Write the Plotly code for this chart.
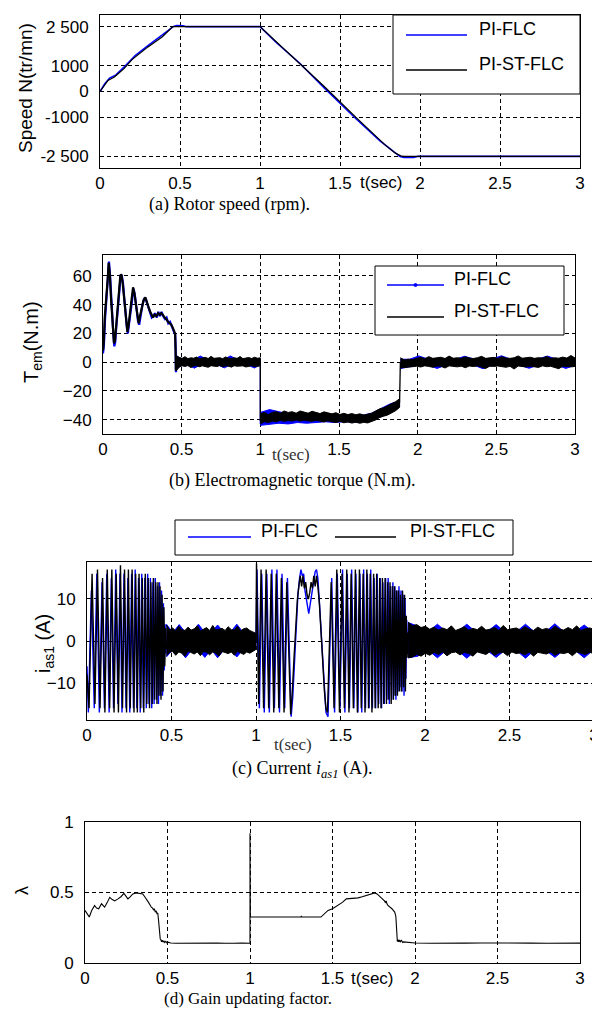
import numpy as np
import plotly.graph_objects as go

# ---------------- DATA ----------------
time_ticks = [0, 0.5, 1, 1.5, 2, 2.5, 3]
time_ticktext = ["0", "0.5", "1", "1.5", "2", "2.5", "3"]

speed_ticks = [-2500, -1000, 0, 1000, 2500]
speed_ticktext = ["-2 500", "-1000", "0", "1000", "2 500"]
torque_ticks = [-40, -20, 0, 20, 40, 60]
current_ticks = [-10, 0, 10]
lambda_ticks = [0, 0.5, 1]

# (a) rotor speed
speed_t_st = [0, 0.05, 0.09, 0.15, 0.2, 0.3, 0.39, 0.44, 0.455, 1.0, 1.2, 1.4, 1.6, 1.78, 1.84, 1.88, 1.9, 3.0]
speed_st = [0, 430, 560, 880, 1230, 1720, 2110, 2420, 2500, 2500, 1350, 200, -1000, -2050, -2350, -2480, -2500, -2500]
speed_t_pi = [0, 0.03, 0.06, 0.1, 0.16, 0.22, 0.3, 0.38, 0.43, 0.46, 0.48, 0.52, 0.54, 1.0, 1.1, 1.25, 1.4, 1.6, 1.75, 1.85, 1.875, 1.9, 1.96, 1.99, 3.0]
speed_pi = [0, 300, 520, 640, 1000, 1380, 1770, 2150, 2400, 2510, 2545, 2535, 2500, 2500, 1900, 1080, 150, -1050, -1900, -2390, -2510, -2545, -2540, -2500, -2500]

# (b) electromagnetic torque : start-up transient
torque_t_st = [0, 0.005, 0.011, 0.021, 0.03, 0.036, 0.043, 0.05, 0.057, 0.064, 0.07, 0.076, 0.081, 0.088, 0.095,
               0.103, 0.11, 0.117, 0.124, 0.134, 0.142, 0.149, 0.155, 0.162, 0.17, 0.18, 0.191, 0.2, 0.212, 0.22,
               0.227, 0.237, 0.248, 0.258, 0.269, 0.28, 0.29, 0.3, 0.307, 0.318, 0.328, 0.34, 0.35, 0.36, 0.37,
               0.38, 0.392, 0.402, 0.413, 0.424, 0.434, 0.443, 0.452, 0.458, 0.461, 0.463, 0.466]
torque_st = [8, 14, 31, 43, 58, 69, 62, 46, 34, 22, 13, 15, 22, 32, 43, 55, 60, 61, 56, 45, 34, 26, 21, 25, 31,
             42, 52, 48, 38, 31, 27, 33, 39, 43, 45, 42, 38, 35, 33, 31, 33, 32, 34, 33, 34, 33, 31, 30, 28, 27,
             26, 24, 22, 20, 10, -6, 1]
torque_t_pi = [0, 0.006, 0.013, 0.022, 0.031, 0.038, 0.045, 0.052, 0.059, 0.066, 0.072, 0.078, 0.084, 0.091,
               0.098, 0.106, 0.113, 0.12, 0.128, 0.137, 0.145, 0.152, 0.158, 0.165, 0.173, 0.183, 0.194, 0.203,
               0.214, 0.222, 0.23, 0.24, 0.251, 0.261, 0.272, 0.283, 0.293, 0.303, 0.31, 0.32, 0.33, 0.342,
               0.352, 0.362, 0.372, 0.382, 0.394, 0.404, 0.415, 0.426, 0.436, 0.445, 0.454, 0.459, 0.462, 0.464, 0.467]
torque_pi = [6, 12, 30, 45, 60, 70, 60, 43, 31, 19, 11, 14, 24, 34, 45, 56, 61, 60, 54, 42, 31, 24, 20, 26, 33,
             44, 51, 46, 36, 29, 26, 34, 40, 44, 44, 40, 36, 33, 31, 32, 34, 31, 35, 32, 35, 32, 30, 31, 27, 28,
             25, 23, 21, 19, 8, -7, 2]

# torque ripple bands (upper / lower envelope)
tq_band1_t = (0.466, 1.0)
tq_band1_up = [4.5, 3.2, 2.6, 3.8, 2.4, 3.0, 2.7, 3.5, 2.3, 2.9, 3.3, 2.5, 4.0, 2.6, 2.8, 3.1, 2.4, 3.6, 2.7, 2.5,
               3.0, 2.6, 3.9, 2.4, 2.8, 3.2, 2.5, 3.4, 2.7, 3.0]
tq_band1_lo = [-6, -3.4, -2.6, -3.0, -2.4, -3.8, -2.7, -2.5, -3.2, -2.6, -2.9, -3.6, -2.5, -2.7, -3.1, -2.4, -3.3,
               -2.6, -2.8, -3.5, -2.5, -2.9, -3.0, -2.6, -3.4, -2.7, -2.5, -3.1, -2.8, -2.6]
tq_band2_t = (1.0, 1.885)
tq_band2_up = [-36, -35, -36.5, -35, -34.5, -35.5, -34, -35, -34.5, -35.5, -34, -34.8, -35.5, -34.2, -35, -35.8,
               -34.6, -35.4, -36, -35.2, -36.4, -35.6, -36.5, -35.8, -36.6, -36, -36.8, -36.2, -35.5, -34, -32.5,
               -31.8, -30.5, -29, -27.5, -25.5]
tq_band2_lo = [-43, -41.5, -42, -41, -41.5, -40.5, -41.2, -40.6, -41, -40.2, -41, -40.5, -40.8, -41.2, -40.4, -41,
               -41.6, -40.8, -41.5, -42, -41.2, -42.2, -41.6, -42.4, -41.8, -42.5, -41.9, -42.3, -41.5, -40.2,
               -38.5, -37.6, -36.8, -35.5, -33.8, -31.5]
tq_band3_t = (1.89, 3.0)
tq_band3_up = [3, 1.5, 2, 1.8, 2.6, 3.2, 2.4, 3.8, 2.6, 2.9, 3.4, 2.5, 4.2, 2.7, 3.0, 2.6, 3.6, 2.8, 2.5, 3.1, 4.0,
               2.6, 2.9, 3.3, 2.5, 3.7, 2.8, 2.6, 3.0, 4.3, 2.7, 2.9, 3.4, 2.6, 3.1, 2.8, 3.9, 2.6, 3.0, 2.7, 3.5,
               2.8, 4.6, 2.9]
tq_band3_lo = [-4, -3.8, -3.5, -3.2, -2.8, -3.4, -2.6, -3.0, -3.6, -2.7, -2.9, -4.1, -2.6, -3.0, -3.3, -2.8, -3.9,
               -2.7, -3.1, -2.6, -3.4, -4.4, -2.8, -3.0, -2.7, -3.2, -3.6, -2.9, -4.8, -2.7, -3.1, -3.4, -2.8,
               -3.0, -3.7, -2.6, -3.2, -2.9, -3.5, -4.6, -2.8, -3.1, -3.3, -3.0]
# PI-FLC bands (mostly hidden, occasional spikes)
tq_pi_band1_up = [4.5, 2.0, 2.2, 2.0, 4.2, 2.1, 2.0, 2.2, 2.0, 4.3, 2.1, 2.0, 2.2, 2.0, 2.1]
tq_pi_band1_lo = [-5, -2.0, -2.1, -4.2, -2.0, -2.2, -2.0, -2.1, -4.0, -2.0, -2.2, -2.0, -2.1, -4.1, -2.0]
tq_pi_band2_up = [-35, -33, -34.5, -36, -36.5, -36, -36.5, -37, -37, -37.5, -37.5, -37, -35.5, -32, -29, -27]
tq_pi_band2_lo = [-44, -43, -42.5, -43, -42, -42.5, -42, -41.5, -42, -41.5, -41.8, -41.5, -40, -38, -35, -31]
tq_pi_band3_up = [2.0, 2.0, 4.3, 2.1, 2.0, 2.2, 2.0, 4.1, 2.1, 2.0, 2.2, 4.4, 2.0, 2.1, 2.0, 2.2, 4.2, 2.0, 2.1, 2.0]
tq_pi_band3_lo = [-4.5, -3, -2.0, -2.1, -4.4, -2.0, -2.2, -2.0, -2.1, -4.6, -2.0, -2.2, -2.0, -2.1, -4.3, -2.0,
                  -2.2, -2.0, -4.4, -2.1]

# (c) stator current i_as1 : oscillation peaks
cur_t_st_1 = [0, 0.012, 0.03, 0.047, 0.062, 0.077, 0.092, 0.106, 0.12, 0.134, 0.147, 0.16, 0.173, 0.186, 0.198,
              0.21, 0.222, 0.234, 0.245, 0.256, 0.267, 0.278, 0.288, 0.298, 0.308, 0.318, 0.327, 0.336, 0.345,
              0.354, 0.362, 0.37, 0.378, 0.386, 0.393, 0.4, 0.407, 0.414, 0.42, 0.426, 0.432, 0.438, 0.444, 0.45,
              0.455, 0.46, 0.465, 0.47]
cur_st_1 = [-8, -16, 16, -15, 17, -16, 15, -17, 17, -16, 17, -17, 16, -17, 18, -16, 17, -17, 17, -16, 17, -17,
            16, -17, 16, -16, 15, -17, 16, -15, 15, -16, 14, -15, 15, -14, 14, -15, 14, -13, 13, -14, 11, -12, 8,
            -6, 3, -2]
cur_t_st_2 = [1.0, 1.003, 1.016, 1.03, 1.045, 1.06, 1.075, 1.09, 1.105, 1.12, 1.135, 1.15, 1.166, 1.182, 1.205,
              1.215, 1.225, 1.235, 1.245, 1.255, 1.262, 1.27, 1.278, 1.286, 1.294, 1.302, 1.31, 1.318, 1.326,
              1.334, 1.342, 1.35, 1.358, 1.366, 1.375, 1.385, 1.395, 1.405, 1.414, 1.423]
cur_st_2 = [0, 18.5, -15, 17, -16, 17, -16, 16, -17, 16, -16, 15, -17, 14, -17.5,
            -12, -4, 4, 10, 13.5, 15.5, 13, 15.5, 12.5, 14, 11, 10, 11.5, 14, 12.5, 15.5, 13, 15.5, 13, 9, 2,
            -6, -12, -16, -17]
cur_t_st_3 = [1.445, 1.462, 1.478, 1.494, 1.509, 1.523, 1.537, 1.55, 1.563, 1.576, 1.588, 1.6, 1.612, 1.623,
              1.634, 1.645, 1.656, 1.666, 1.676, 1.686, 1.696, 1.705, 1.714, 1.723, 1.732, 1.74, 1.748, 1.756,
              1.764, 1.772, 1.779, 1.786, 1.793, 1.8, 1.807, 1.813, 1.819, 1.825, 1.831, 1.837, 1.843, 1.849,
              1.855, 1.861, 1.867, 1.873, 1.879, 1.884, 1.889, 1.894, 1.899]
cur_st_3 = [14, -16, 17, -17, 16, -16, 17, -17, 16, -16, 17, -17, 17, -16, 16, -17, 17, -16, 16, -17, 16, -16,
            16, -16, 15, -16, 15, -15, 15, -15, 14, -14, 14, -15, 13, -14, 13, -13, 12, -13, 12, -12, 11, -12,
            12, -11, 11, -12, 6, -4, 2]

cur_t_pi_1 = [0, 0.008, 0.026, 0.043, 0.058, 0.073, 0.089, 0.103, 0.117, 0.131, 0.144, 0.157, 0.17, 0.183, 0.195,
              0.207, 0.219, 0.231, 0.242, 0.253, 0.264, 0.275, 0.285, 0.295, 0.305, 0.315, 0.324, 0.333, 0.342,
              0.351, 0.359, 0.367, 0.375, 0.383, 0.39, 0.397, 0.404, 0.411, 0.417, 0.423, 0.429, 0.435, 0.441,
              0.447, 0.452, 0.457, 0.462, 0.468]
cur_pi_1 = [-6, -17, 12, -16, 16, -17, 14, -16, 16, -17, 15, -16, 17, -15, 16, -17, 16, -16, 15, -17, 16, -16, 17,
            -16, 15, -17, 16, -16, 15, -16, 16, -15, 15, -16, 14, -15, 15, -14, 13, -15, 14, -13, 12, -13, 9, -7,
            4, -3]
cur_t_pi_2 = [1.0, 1.006, 1.02, 1.034, 1.049, 1.064, 1.079, 1.094, 1.109, 1.124, 1.139, 1.154, 1.17, 1.186, 1.208,
              1.218, 1.228, 1.238, 1.248, 1.258, 1.266, 1.274, 1.282, 1.29, 1.298, 1.306, 1.312, 1.318, 1.326,
              1.334, 1.342, 1.35, 1.358, 1.366, 1.374, 1.384, 1.394, 1.404, 1.414, 1.426]
cur_pi_2 = [0, 17, -16, 16, -17, 16, -17, 17, -16, 17, -17, 16, -16, 15, -18,
            -13, -5, 5, 11, 15, 17, 15.5, 16, 12, 10, 8, 6.5, 8, 10, 12.5, 15, 16.5, 17, 15, 10, 3, -6, -13, -17,
            -18]
cur_t_pi_3 = [1.448, 1.465, 1.481, 1.497, 1.512, 1.526, 1.54, 1.553, 1.566, 1.579, 1.591, 1.603, 1.615, 1.626,
              1.637, 1.648, 1.659, 1.669, 1.679, 1.689, 1.699, 1.708, 1.717, 1.726, 1.735, 1.743, 1.751, 1.759,
              1.767, 1.775, 1.782, 1.789, 1.796, 1.803, 1.81, 1.816, 1.822, 1.828, 1.834, 1.84, 1.846, 1.852,
              1.858, 1.864, 1.87, 1.876, 1.882, 1.887, 1.892, 1.897, 1.902]
cur_pi_3 = [15, -17, 16, -16, 17, -17, 16, -16, 17, -16, 16, -17, 16, -17, 17, -16, 16, -16, 17, -16, 15, -16, 16,
            -15, 15, -16, 14, -15, 15, -14, 15, -15, 13, -14, 14, -13, 13, -14, 12, -12, 13, -11, 12, -12, 11,
            -13, 10, -9, 5, -3, 2]

# current ripple bands
cur_band1_t = (0.47, 1.0)
cur_band1_up = [3.8, 2.6, 3.1, 2.4, 3.5, 2.7, 2.5, 3.3, 2.6, 2.9, 3.6, 2.4, 2.8, 3.2, 2.5, 3.7, 2.6, 2.8, 3.0,
                2.5, 3.4, 2.7, 2.6, 3.5, 2.4, 2.9, 3.1, 2.5, 2.2, 1.8]
cur_band1_lo = [-3.5, -2.7, -2.5, -3.4, -2.6, -2.9, -3.6, -2.4, -2.8, -3.1, -2.6, -3.5, -2.5, -2.7, -3.3, -2.6,
                -2.9, -3.6, -2.5, -2.8, -3.0, -2.6, -3.4, -2.5, -2.8, -3.2, -2.6, -2.9, -2.4, -2.0]
cur_band2_t = (1.9, 3.0)
cur_band2_up = [4.5, 3.6, 3.9, 3.2, 3.5, 2.8, 3.3, 2.6, 3.1, 2.7, 3.6, 2.5, 2.9, 3.4, 2.6, 3.0, 2.7, 3.5, 2.6,
                2.8, 3.2, 2.5, 3.7, 2.7, 2.9, 3.1, 2.6, 3.4, 2.8, 2.5, 3.3, 2.7, 3.0, 2.6, 3.5, 2.8, 2.6, 3.2,
                2.7, 3.6, 2.5, 2.9, 3.1, 2.8]
cur_band2_lo = [-4, -3.8, -3.2, -3.6, -2.9, -3.4, -2.7, -3.2, -2.6, -3.5, -2.8, -2.6, -3.3, -2.7, -3.0, -3.6,
                -2.6, -2.9, -3.2, -2.5, -3.4, -2.8, -2.7, -3.5, -2.6, -3.0, -2.8, -3.3, -2.6, -3.6, -2.7, -2.9,
                -3.1, -2.6, -3.4, -2.8, -3.0, -2.7, -3.5, -2.6, -2.9, -3.2, -2.7, -3.0]
cur_pi_band1_up = [4.0, 2.0, 3.9, 2.0, 2.1, 4.0, 2.0, 2.1, 3.8, 2.0, 2.1, 4.0, 2.0, 2.0, 1.8]
cur_pi_band1_lo = [-3.8, -2.0, -2.1, -4.0, -2.0, -2.1, -3.9, -2.0, -4.0, -2.1, -2.0, -3.8, -2.0, -2.0, -1.9]
cur_pi_band2_up = [4.4, 3.5, 2.1, 4.0, 2.0, 2.1, 4.0, 2.0, 2.1, 3.9, 2.0, 2.1, 4.0, 2.0, 2.1, 4.1, 2.0, 2.1, 3.8, 2.0]
cur_pi_band2_lo = [-4.0, -3.6, -2.1, -4.0, -2.0, -2.1, -4.1, -2.0, -2.1, -3.9, -2.0, -2.1, -4.1, -2.0, -2.1,
                   -3.9, -2.0, -2.1, -4.0, -2.0]

# (d) gain updating factor lambda (PI-ST-FLC)
lambda_t = [0, 0.013, 0.026, 0.04, 0.058, 0.07, 0.083, 0.1, 0.119, 0.135, 0.15, 0.165, 0.18, 0.2, 0.218, 0.236,
            0.25, 0.26, 0.275, 0.29, 0.311, 0.33, 0.35, 0.362, 0.372, 0.385, 0.402, 0.41, 0.415, 0.42, 0.426,
            0.431, 0.436, 0.441, 0.446, 0.449, 0.452, 0.456, 0.46, 0.464, 0.468, 0.473, 0.478, 0.483, 0.49,
            0.497, 0.503, 0.52, 0.55, 0.6, 0.65, 0.7, 0.72, 0.74, 0.8, 0.85, 0.88, 0.9, 0.95, 0.999,
            1.0, 1.0, 1.002, 1.2, 1.31, 1.311, 1.312, 1.43, 1.473, 1.5, 1.533, 1.56, 1.584, 1.62, 1.655, 1.68,
            1.705, 1.73, 1.756, 1.77, 1.796, 1.81, 1.815, 1.82, 1.825, 1.83, 1.836, 1.86, 1.877, 1.884, 1.887,
            1.893, 1.897, 1.9, 1.905, 1.91, 1.917, 1.925, 1.93, 1.95, 2.0, 2.1, 2.2, 2.3, 2.4, 2.5, 2.6, 2.7,
            2.8, 2.9, 3.0]
lambda_v = [0.373, 0.35, 0.326, 0.37, 0.408, 0.39, 0.385, 0.42, 0.396, 0.43, 0.466, 0.45, 0.44, 0.455, 0.47,
            0.494, 0.47, 0.455, 0.47, 0.49, 0.497, 0.495, 0.49, 0.47, 0.455, 0.43, 0.396, 0.39, 0.375, 0.385,
            0.361, 0.37, 0.35, 0.355, 0.3, 0.25, 0.186, 0.17, 0.165, 0.15, 0.162, 0.148, 0.158, 0.145, 0.153,
            0.142, 0.148, 0.142, 0.14, 0.141, 0.142, 0.139, 0.143, 0.14, 0.141, 0.14, 0.143, 0.14, 0.141, 0.14,
            0.14, 0.92, 0.326, 0.326, 0.326, 0.335, 0.326, 0.326, 0.373, 0.385, 0.408, 0.43, 0.455, 0.458,
            0.462, 0.47, 0.478, 0.485, 0.497, 0.49, 0.462, 0.45, 0.44, 0.43, 0.44, 0.42, 0.408, 0.385, 0.361,
            0.33, 0.28, 0.152, 0.165, 0.15, 0.163, 0.148, 0.163, 0.146, 0.15, 0.148, 0.142, 0.14, 0.143, 0.141,
            0.142, 0.14, 0.143, 0.141, 0.14, 0.142, 0.141]

# ---------------- FIGURE ----------------
W, H = 600, 1011
BLUE = "#0000ff"
BLACK = "#000000"


def px(x):
    return x / W


def py(y):
    return 1 - y / H


boxes = [(92, 572, 7, 160), (95, 567, 247, 426), (79, 586, 554, 712), (77, 572, 814, 955)]
axis_ids = ["", "2", "3", "4"]

fig = go.Figure()


def line(x, y, color, ax, width=1.3, mode="lines", name=None):
    fig.add_trace(go.Scatter(x=x, y=y, mode=mode, line=dict(color=color, width=width),
                             marker=dict(size=3, color=color), name=name, showlegend=False,
                             xaxis="x" + ax, yaxis="y" + ax, hoverinfo="skip"))


def band(span, up, lo, color, ax):
    t = list(np.linspace(span[0], span[1], len(up)))
    xs = t + t[::-1]
    ys = list(up) + list(lo)[::-1]
    fig.add_trace(go.Scatter(x=xs, y=ys, mode="lines", fill="toself", fillcolor=color,
                             line=dict(color=color, width=1), showlegend=False,
                             xaxis="x" + ax, yaxis="y" + ax, hoverinfo="skip"))


# (a) speed
line(speed_t_pi, speed_pi, BLUE, "", 1.6, name="PI-FLC")
line(speed_t_st, speed_st, BLACK, "", 1.2, name="PI-ST-FLC")

# (b) torque
line(torque_t_pi, torque_pi, BLUE, "2", 2.2)
band(tq_band1_t, tq_pi_band1_up, tq_pi_band1_lo, BLUE, "2")
line([1.0, 1.0], [0, -43], BLUE, "2")
band(tq_band2_t, tq_pi_band2_up, tq_pi_band2_lo, BLUE, "2")
band(tq_band3_t, tq_pi_band3_up, tq_pi_band3_lo, BLUE, "2")
line(torque_t_st, torque_st, BLACK, "2", 2.2)
band(tq_band1_t, tq_band1_up, tq_band1_lo, BLACK, "2")
line([1.0, 1.0], [0, -41], BLACK, "2", 1.3)
band(tq_band2_t, tq_band2_up, tq_band2_lo, BLACK, "2")
line([1.885, 1.89], [-28, 0], BLACK, "2", 1.3)
band(tq_band3_t, tq_band3_up, tq_band3_lo, BLACK, "2")

# (c) current
line(cur_t_pi_1, cur_pi_1, BLUE, "3", 1.4)
band(cur_band1_t, cur_pi_band1_up, cur_pi_band1_lo, BLUE, "3")
line(cur_t_pi_2 + cur_t_pi_3, cur_pi_2 + cur_pi_3, BLUE, "3", 1.4)
band(cur_band2_t, cur_pi_band2_up, cur_pi_band2_lo, BLUE, "3")
line(cur_t_st_1, cur_st_1, BLACK, "3", 1.4)
band(cur_band1_t, cur_band1_up, cur_band1_lo, BLACK, "3")
line(cur_t_st_2 + cur_t_st_3, cur_st_2 + cur_st_3, BLACK, "3", 1.4)
band(cur_band2_t, cur_band2_up, cur_band2_lo, BLACK, "3")

# (d) lambda
line(lambda_t, lambda_v, BLACK, "4", 1.1)

TICKFONT = dict(family="Liberation Sans, Arial, sans-serif", size=17, color="black")
common = dict(showline=True, mirror=True, linecolor="black", linewidth=1, showgrid=True,
              gridcolor="black", griddash="4px,3px", gridwidth=1.4, zeroline=False, ticks="",
              tickfont=TICKFONT, automargin=False, fixedrange=True)

yspec = [
    dict(range=[-2950, 2950], tickvals=speed_ticks, ticktext=speed_ticktext),
    dict(range=[-50, 74.5], tickvals=torque_ticks),
    dict(range=[-18.8, 18.8], tickvals=current_ticks),
    dict(range=[0, 1], tickvals=lambda_ticks, ticktext=["0", "0.5", "1"]),
]
layout_axes = {}
for i, (x0, x1, y0, y1) in enumerate(boxes):
    sid = axis_ids[i]
    xname = "xaxis" + sid
    yname = "yaxis" + sid
    layout_axes[xname] = dict(common, domain=[px(x0), px(x1)], range=[0, 3], tickvals=time_ticks,
                              ticktext=time_ticktext, anchor="y" + sid, ticklabeloverflow="allow")
    layout_axes[yname] = dict(common, domain=[py(y1), py(y0)], anchor="x" + sid, ticklabelstandoff=7,
                              **yspec[i])

fig.update_layout(width=W, height=H, margin=dict(l=0, r=0, t=0, b=0), autosize=False,
                  paper_bgcolor="white", plot_bgcolor="white", showlegend=False, **layout_axes)

SANS = "Liberation Sans, Arial, sans-serif"
SERIF = "Liberation Serif, Times New Roman, serif"
ann = []


def text(x, y, s, size=17, family=SANS, angle=0, color="black", xanchor="center"):
    ann.append(dict(x=px(x), y=py(y - 6), xref="paper", yref="paper", text=s, showarrow=False,
                    font=dict(family=family, size=size, color=color), textangle=angle,
                    xanchor=xanchor, yanchor="middle"))


# axis titles
text(17, 86, "Speed N(tr/mn)", 19, angle=-90)
text(25, 340, "T<sub>em</sub>(N.m)", 20, angle=-90)
text(36, 642, "i<sub>as1</sub> (A)", 20, angle=-90)
text(14, 889, "λ", 18, angle=-90)
# time labels
text(373, 181, "t(sec)", 17)
text(283, 452, "t(sec)", 17, family=SERIF, color="#333333")
text(285, 742, "t(sec)", 17, family=SERIF, color="#333333")
text(365, 976, "t(sec)", 17)
# captions
text(221, 202, "(a) Rotor speed (rpm).", 18, family=SERIF)
text(284, 478, "(b) Electromagnetic torque (N.m).", 18, family=SERIF)
text(294, 767, "(c) Current <i>i<sub>as1</sub></i> (A).", 18, family=SERIF)
text(240, 996, "(d) Gain updating factor.", 17, family=SERIF)

shapes = []


def rect(x0, x1, y0, y1):
    shapes.append(dict(type="rect", xref="paper", yref="paper", x0=px(x0), x1=px(x1), y0=py(y1), y1=py(y0),
                       line=dict(color="black", width=1), fillcolor="white", layer="above"))


def seg(x0, x1, y, color, width=1.5):
    shapes.append(dict(type="line", xref="paper", yref="paper", x0=px(x0), x1=px(x1), y0=py(y), y1=py(y),
                       line=dict(color=color, width=width), layer="above"))


# legend (a)
rect(385, 572, 7, 86)
seg(398, 459, 27, BLUE)
seg(398, 459, 62, BLACK)
text(469, 27, "PI-FLC", 18, xanchor="left")
text(469, 62, "PI-ST-FLC", 18, xanchor="left")
# legend (b)
rect(367, 556, 258, 327)
seg(379, 436, 277, BLUE)
shapes.append(dict(type="circle", xref="paper", yref="paper", x0=px(406), x1=px(409), y0=py(278.5),
                   y1=py(275.5), line=dict(color=BLUE, width=1), fillcolor=BLUE, layer="above"))
seg(379, 436, 309, BLACK)
text(444, 277, "PI-FLC", 18, xanchor="left")
text(444, 309, "PI-ST-FLC", 18, xanchor="left")
# legend (c)
rect(167, 505, 512, 547)
seg(180, 243, 529, BLUE)
text(251, 529, "PI-FLC", 18, xanchor="left")
seg(327, 388, 529, BLACK)
text(400, 529, "PI-ST-FLC", 18, xanchor="left")

fig.update_layout(annotations=ann, shapes=shapes)
fig.write_html("out.html")
